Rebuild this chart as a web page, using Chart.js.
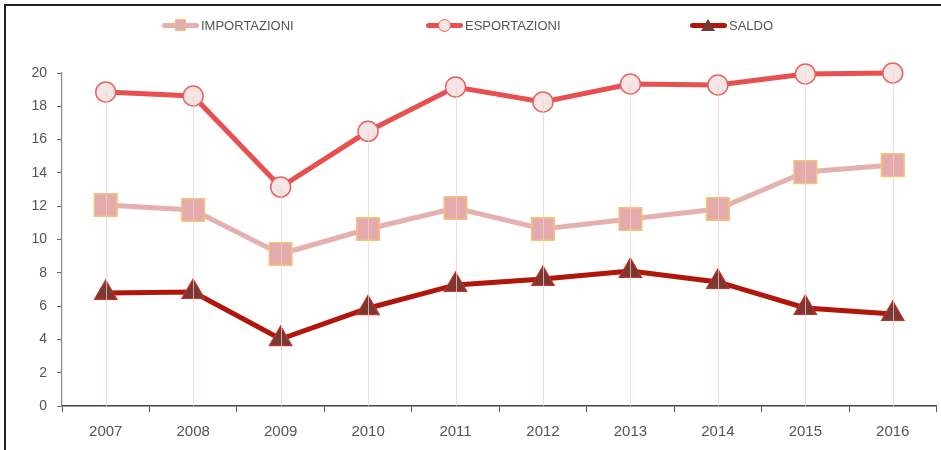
<!DOCTYPE html>
<html>
<head>
<meta charset="utf-8">
<script src="https://cdn.jsdelivr.net/npm/chart.js@4.4.1/dist/chart.umd.min.js"></script>
<style>
  html, body { margin: 0; padding: 0; background: #fff; }
  body { width: 941px; height: 450px; position: relative; overflow: hidden; font-family: "Liberation Sans", Arial, sans-serif; }
  #frame { position: absolute; left: 4px; top: 4px; width: 1000px; height: 500px; border-top: 2px solid #222; border-left: 2px solid #222; }
  #wrap { position: absolute; left: 0; top: 0; width: 954px; height: 450px; }
  .leg { position: absolute; top: 18px; height: 14px; display: flex; align-items: center; font-size: 13px; color: #555; }
  .leg .sym { position: relative; width: 37px; height: 14px; margin-right: 2px; }
  .leg .ln { position: absolute; left: 0; right: 0; top: 5px; height: 5px; border-radius: 3px; }
  .leg .mk { position: absolute; box-sizing: border-box; }
</style>
</head>
<body>
<div id="frame"></div>
<div id="wrap"><canvas id="chart" width="954" height="450"></canvas></div>
<div id="legend"></div>
<script>
// --- DATA ---
const years = ['2007', '2008', '2009', '2010', '2011', '2012', '2013', '2014', '2015', '2016'];
const importazioni = [12.07, 11.77, 9.13, 10.63, 11.89, 10.63, 11.23, 11.83, 14.05, 14.47];
const esportazioni = [18.86, 18.62, 13.15, 16.50, 19.16, 18.26, 19.34, 19.28, 19.94, 20.00];
const saldo = [6.79, 6.85, 4.02, 5.87, 7.27, 7.63, 8.11, 7.45, 5.89, 5.53];
const yTicks = [0, 2, 4, 6, 8, 10, 12, 14, 16, 18, 20];

// --- LEGEND POSITIONS (html legend, left px of each item) ---
const legendLeft = [162, 426, 690];

// drop lines from the highest point of each year down to the axis
const dropLines = {
    id: 'dropLines',
    afterDatasetsDraw(chart) {
        const ctx = chart.ctx;
        const bottom = chart.chartArea.bottom;
        const metas = chart.data.datasets.map((d, i) => chart.getDatasetMeta(i));
        ctx.save();
        ctx.strokeStyle = 'rgba(240, 205, 205, 0.75)';
        ctx.lineWidth = 1;
        years.forEach((y, i) => {
            const top = Math.min(...metas.map(m => m.data[i].y));
            const x = metas[0].data[i].x;
            ctx.beginPath();
            ctx.moveTo(Math.round(x) + 0.5, top);
            ctx.lineTo(Math.round(x) + 0.5, bottom);
            ctx.stroke();
        });
        ctx.restore();
    }
};

const chart = new Chart(document.getElementById('chart'), {
    type: 'line',
    data: {
        labels: years,
        datasets: [
            {
                label: 'IMPORTAZIONI',
                data: importazioni,
                borderColor: '#e5b0b0',
                borderWidth: 5,
                pointStyle: 'rect',
                pointRadius: 16,
                pointBackgroundColor: '#e3abab',
                pointBorderColor: '#f8c274',
                pointBorderWidth: 1.5,
                clip: false
            },
            {
                label: 'ESPORTAZIONI',
                data: esportazioni,
                borderColor: '#e84f4f',
                borderWidth: 5,
                pointStyle: 'circle',
                pointRadius: 10,
                pointBackgroundColor: '#f5e5e5',
                pointBorderColor: '#e86262',
                pointBorderWidth: 1.5,
                clip: false
            },
            {
                label: 'SALDO',
                data: saldo,
                borderColor: '#b0160a',
                borderWidth: 5,
                pointStyle: 'triangle',
                pointRadius: 13,
                pointBackgroundColor: '#7b3732',
                pointBorderColor: '#c2302a',
                pointBorderWidth: 1.2,
                clip: false
            }
        ]
    },
    options: {
        responsive: false,
        animation: false,
        layout: { padding: { top: 73, right: 4, left: 0, bottom: 0 } },
        plugins: { legend: { display: false }, tooltip: { enabled: false } },
        scales: {
            x: {
                offset: true,
                afterFit: s => { s.paddingLeft = 0; s.paddingRight = 0; s.height = 44; },
                grid: { drawOnChartArea: false, drawTicks: true, tickLength: 6, color: '#555', offset: true },
                border: { color: '#444', width: 1.5 },
                ticks: { color: '#555', font: { family: 'Liberation Sans, Arial, sans-serif', size: 15 }, padding: 11 }
            },
            y: {
                min: 0,
                max: 20,
                afterBuildTicks: s => { s.ticks = yTicks.map(v => ({ value: v })); },
                afterFit: s => { s.width = 62; },
                grid: { drawOnChartArea: false, drawTicks: true, tickLength: 5, color: '#666' },
                border: { color: '#888', width: 1.2, dash: [4, 3] },
                ticks: { color: '#555', font: { family: 'Liberation Sans, Arial, sans-serif', size: 14 }, padding: 10 }
            }
        }
    },
    plugins: [dropLines]
});

// --- HTML LEGEND ---
function markerHtml(ds) {
    if (ds.pointStyle === 'rect') {
        return `<div class="mk" style="left:13px;top:1px;width:11px;height:12px;background:${ds.pointBackgroundColor};border:1px solid ${ds.pointBorderColor};"></div>`;
    }
    if (ds.pointStyle === 'circle') {
        return `<div class="mk" style="left:12px;top:1px;width:13px;height:13px;border-radius:50%;background:${ds.pointBackgroundColor};border:1.5px solid ${ds.pointBorderColor};"></div>`;
    }
    return `<div class="mk" style="left:11px;top:1px;width:0;height:0;border-left:7px solid transparent;border-right:7px solid transparent;border-bottom:12px solid ${ds.pointBackgroundColor};"></div>`;
}

document.getElementById('legend').innerHTML = chart.data.datasets.map((ds, i) => `
    <div class="leg" style="left:${legendLeft[i]}px;">
        <div class="sym"><div class="ln" style="background:${ds.borderColor};"></div>${markerHtml(ds)}</div>
        <span>${ds.label}</span>
    </div>
`).join('');
</script>
</body>
</html>
